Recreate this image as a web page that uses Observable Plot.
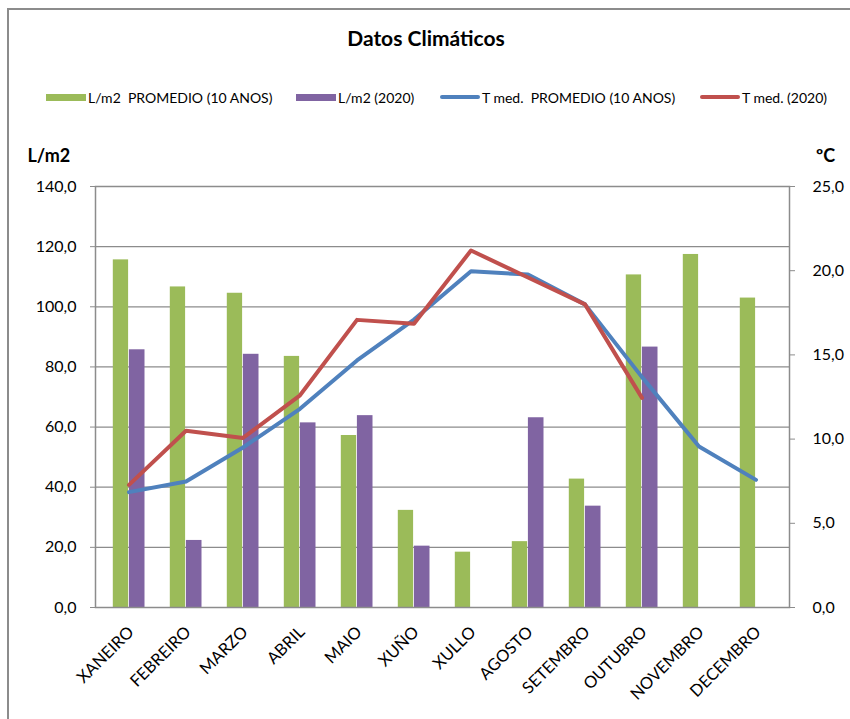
<!DOCTYPE html>
<html>
<head>
<meta charset="utf-8">
<script src="https://cdn.jsdelivr.net/npm/d3@7"></script>
<script src="https://cdn.jsdelivr.net/npm/@observablehq/plot@0.6"></script>
<style>
  html, body { margin: 0; padding: 0; background: #fff; }
  #root { position: relative; width: 850px; height: 719px; overflow: hidden; font-family: Lato, "Open Sans", sans-serif; color: #000; }
  #border { position: absolute; left: 7px; top: 8px; right: -10px; bottom: -10px; border-left: 2px solid #8c8c8c; border-top: 2px solid #8c8c8c; }
  #title { position: absolute; left: 0; width: 852px; top: 25px; text-align: center; font-weight: bold; font-size: 21px; }
  .leg { position: absolute; top: 88px; height: 18px; display: flex; align-items: center; font-size: 14px; white-space: pre; }
  .sw { display: inline-block; width: 40px; margin-right: 2px; }
  #chart { position: absolute; left: 0; top: 130px; }
</style>
</head>
<body>
<div id="root">
  <div id="border"></div>
  <div id="title"></div>
  <div id="legend"></div>
  <div id="chart"></div>
</div>
<script>
const months = ["XANEIRO","FEBREIRO","MARZO","ABRIL","MAIO","XUÑO","XULLO","AGOSTO","SETEMBRO","OUTUBRO","NOVEMBRO","DECEMBRO"];
const rainAvg  = [115.6, 106.6, 104.5, 83.5, 57.2, 32.3, 18.4, 21.9, 42.7, 110.6, 117.4, 102.9];
const rain2020 = [85.7, 22.3, 84.2, 61.4, 63.8, 20.4, null, 63.1, 33.7, 86.6, null, null];
const tempAvg  = [6.85, 7.48, 9.5, 11.8, 14.67, 17.1, 19.97, 19.77, 18.0, 13.68, 9.56, 7.58];
const temp2020 = [7.28, 10.5, 10.07, 12.6, 17.08, 16.85, 21.2, 19.6, 18.0, 12.45, null, null];
const leftTicks  = [0, 20, 40, 60, 80, 100, 120, 140];
const rightTicks = [0, 5, 10, 15, 20, 25];
const seriesNames = ["L/m2  PROMEDIO (10 ANOS)", "L/m2 (2020)", "T med.  PROMEDIO (10 ANOS)", "T med. (2020)"];
const titleText = "Datos Climáticos";
const leftTitle = "L/m2";
const rightTitle = "ºC";

const colors = ["#9BBB59", "#8064A2", "#4F81BD", "#C0504D"];
const k = 140 / 25; // right-axis (°C) to left-axis (L/m2) units
const fmt = v => v.toFixed(1).replace(".", ",");

document.getElementById("title").textContent = titleText;

const legendX = [46, 296, 440, 700];
const legend = document.getElementById("legend");
seriesNames.forEach((name, i) => {
  const item = document.createElement("div");
  item.className = "leg";
  item.style.left = legendX[i] + "px";
  const sw = document.createElement("span");
  sw.className = "sw";
  sw.style.background = colors[i];
  sw.style.height = i < 2 ? "7px" : "4px";
  if (i >= 2) sw.style.borderRadius = "2px";
  item.appendChild(sw);
  item.appendChild(document.createTextNode(name));
  legend.appendChild(item);
});

const data = months.map((m, i) => ({
  m,
  ra: rainAvg[i],
  r20: rain2020[i],
  ta: tempAvg[i] * k,
  t20: temp2020[i] == null ? null : temp2020[i] * k
}));

const chart = Plot.plot({
  width: 850,
  height: 585,
  marginTop: 56,
  marginBottom: 108,
  marginLeft: 95,
  marginRight: 61,
  style: { fontFamily: "Lato, 'Open Sans', sans-serif", fontSize: "16px", color: "#000", background: "transparent", overflow: "visible" },
  x: { domain: months, padding: 0, label: null },
  y: { domain: [0, 140], label: null },
  marks: [
    Plot.gridY(leftTicks, { stroke: "#8c8c8c", strokeOpacity: 1, strokeWidth: 1.2 }),
    Plot.barY(data, { x: "m", y: "ra", fill: colors[0], insetLeft: 12.8, insetRight: 28.9 }),
    Plot.barY(data.filter(d => d.r20 != null), { x: "m", y: "r20", fill: colors[1], insetLeft: 28.9, insetRight: 12.5 }),
    Plot.lineY(data, { x: "m", y: "ta", stroke: colors[2], strokeWidth: 4 }),
    Plot.lineY(data, { x: "m", y: "t20", stroke: colors[3], strokeWidth: 4 }),
    Plot.frame({ stroke: "#8c8c8c", strokeWidth: 1.5 }),
    Plot.axisY(leftTicks, { anchor: "left", tickSize: 5, tickPadding: 14, stroke: "#8c8c8c", tickFormat: fmt, label: null }),
    Plot.axisY(rightTicks.map(t => t * k), { anchor: "right", tickSize: 5, tickPadding: 18, stroke: "#8c8c8c", tickFormat: d => fmt(d / k), label: null }),
    Plot.axisX({ tickSize: 0, tickRotate: -45, dx: 2, dy: 10, fontSize: 16.5, label: null }),
    Plot.text([leftTitle], { frameAnchor: "top-left", textAnchor: "start", dx: -68, dy: -37, fontWeight: "bold", fontSize: 18 }),
    Plot.text([rightTitle], { frameAnchor: "top-right", textAnchor: "middle", dx: 36, dy: -37, fontWeight: "bold", fontSize: 18 })
  ]
});
document.getElementById("chart").appendChild(chart);
</script>
</body>
</html>
